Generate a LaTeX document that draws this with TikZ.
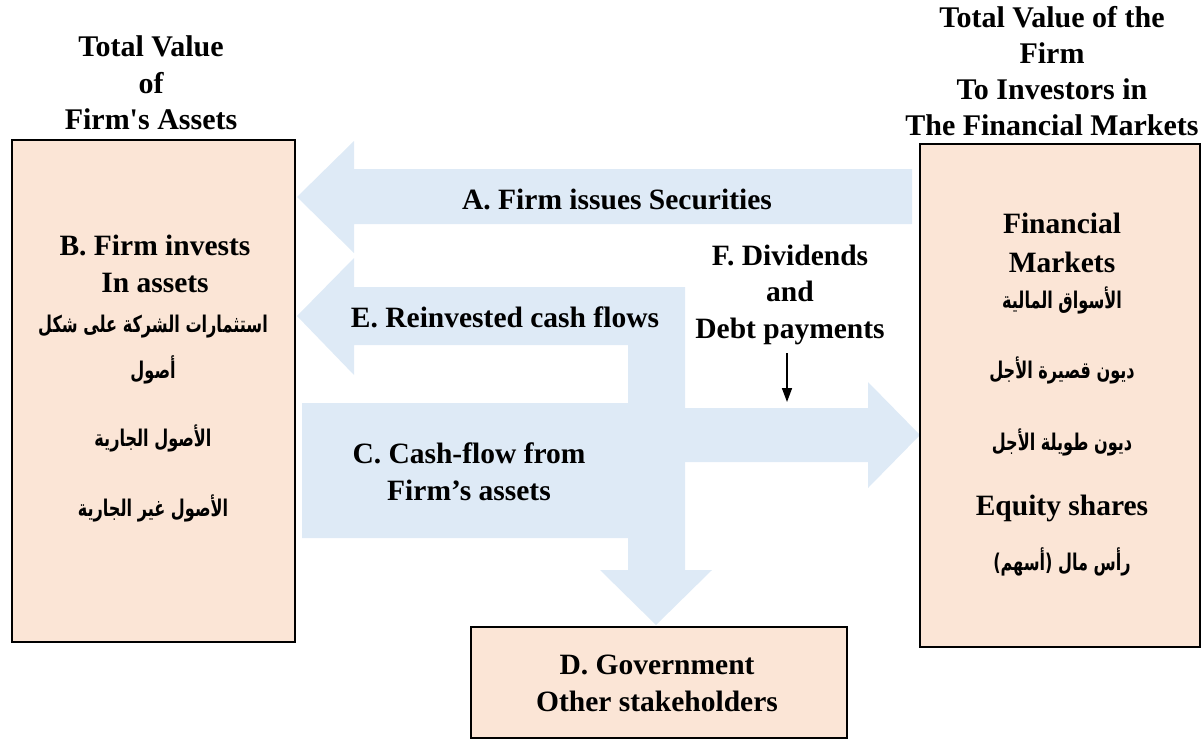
\documentclass[tikz,border=0pt]{standalone}
\usepackage{fontspec}
\newfontfamily\txtfont{Liberation Serif}
\newfontfamily\arabicfont[Script=Arabic, FakeStretch=0.7]{DejaVu Sans}
\TeXXeTstate=1
\usetikzlibrary{arrows.meta}
\definecolor{boxfill}{HTML}{FBE5D6}
\definecolor{flowfill}{HTML}{DEEAF6}
\newcommand{\ar}[1]{\arabicfont\bfseries\beginR #1\endR}
\newcommand{\lblfont}[2]{\fontsize{#1}{#2}\txtfont\bfseries}
\begin{document}
\begin{tikzpicture}[x=1pt,y=-1pt,
  panel/.style={draw=black, line width=2pt, fill=boxfill, inner sep=0pt},
  flow/.style={fill=flowfill, draw=none},
  lbl/.style={font=\lblfont{29.5}{37}, align=center, inner sep=0pt},
  artext/.style={font=\fontsize{23}{26}\selectfont, inner sep=0pt},
  pointer/.style={line width=1.6pt, -{Triangle[width=10pt,length=14pt]}}]
\useasboundingbox (0,0) rectangle (1203,742);

% block arrows
\path[flow] (297,197) -- (354,141) -- (354,169) -- (912,169) -- (912,224)
  -- (354,224) -- (354,253) -- cycle;
\path[flow] (297,316) -- (354,258) -- (354,287) -- (685,287) -- (685,570)
  -- (712,570) -- (656,625) -- (600,570) -- (628,570) -- (628,538)
  -- (302,538) -- (302,403) -- (628,403) -- (628,345) -- (354,345)
  -- (354,375) -- cycle;
\path[flow] (685,408) -- (868,408) -- (868,382) -- (920,435) -- (868,488)
  -- (868,462) -- (685,462) -- cycle;

% boxes
\node[panel, minimum width=283pt, minimum height=502pt] (assets) at (153.5,391) {};
\node[panel, minimum width=280pt, minimum height=503pt] (markets) at (1060,395.5) {};
\node[panel, minimum width=376pt, minimum height=111pt] (gov) at (659,682.5) {};

% titles
\node[lbl, font=\lblfont{30}{36.5}] (t1) at (151,83) {Total Value\\of\\Firm's Assets};
\node[lbl, font=\lblfont{30}{36}] (t2) at (1052,71) {Total Value of the\\Firm\\To Investors in\\The Financial Markets};

% left box
\node[lbl] (b) at (155,263.5) {B. Firm invests\\In assets};
\node[artext] (b1) at (153,327) {\ar{استثمارات الشركة على شكل}};
\node[artext] (b2) at (153,370) {\ar{أصول}};
\node[artext] (b3) at (153,438) {\ar{الأصول الجارية}};
\node[artext] (b4) at (153,508) {\ar{الأصول غير الجارية}};

% right box
\node[lbl, font=\lblfont{29.5}{39}] (m) at (1062,242.5) {Financial\\Markets};
\node[artext] (m1) at (1062,300) {\ar{الأسواق المالية}};
\node[artext] (m2) at (1062,370) {\ar{ديون قصيرة الأجل}};
\node[artext] (m3) at (1062,442) {\ar{ديون طويلة الأجل}};
\node[lbl] (m4) at (1062,508) {Equity shares};
\node[artext] (m5) at (1062,562) {\ar{رأس مال (أسهم)}};

% flow labels
\node[lbl] (a) at (617,199) {A. Firm issues Securities};
\node[lbl] (e) at (505,317) {E. Reinvested cash flows};
\node[lbl, font=\lblfont{29.5}{36.5}] (f) at (790,294.5) {F. Dividends\\and\\Debt payments};
\node[lbl] (c) at (469,471.5) {C. Cash-flow from\\Firm’s assets};
\node[lbl] (d) at (657,683.5) {D. Government\\Other stakeholders};

% pointer under F
\coordinate (fs) at (787,353);
\coordinate (fe) at (787,402);
\draw[pointer] (fs) -- (fe);
\end{tikzpicture}
\end{document}
